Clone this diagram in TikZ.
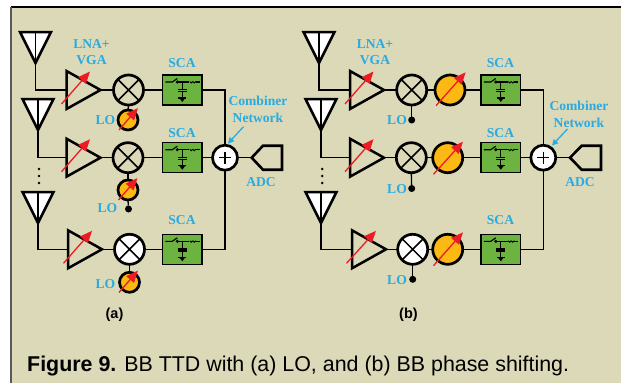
\documentclass[tikz,border=0pt]{standalone}
\usepackage{fontspec}
\setmainfont{Liberation Serif}
\setsansfont{Liberation Sans}
\usetikzlibrary{arrows.meta}
\definecolor{panelbg}{HTML}{DBD9B8}
\definecolor{scagreen}{HTML}{6CB33F}
\definecolor{psyellow}{HTML}{FDB913}
\definecolor{tunered}{HTML}{ED1C24}
\definecolor{labelblue}{HTML}{29ABE2}
\tikzset{
  wire/.style={line width=1.3pt,black},
  hull/.style={line width=2.5pt,black,line join=miter},
  mixer/.style={circle,draw=black,line width=2.7pt,minimum size=30pt,inner sep=0pt,outer sep=0pt,fill=#1},
  shifter/.style={circle,draw=black,line width=2.7pt,minimum size=#1,inner sep=0pt,outer sep=0pt,fill=psyellow},
  lodot/.style={circle,fill=black,minimum size=7pt,inner sep=0pt,outer sep=0pt},
  sumnode/.style={circle,draw=black,line width=2.7pt,fill=white,minimum size=25pt,inner sep=0pt,outer sep=0pt},
  scabox/.style={rectangle,draw=black,line width=1.5pt,fill=scagreen,minimum width=39.5pt,minimum height=30pt,inner sep=0pt,outer sep=0pt},
  bluetxt/.style={text=labelblue,font=\bfseries\fontsize{13.6}{14}\selectfont,inner sep=0pt},
  subcap/.style={font=\sffamily\bfseries\fontsize{14.5}{15}\selectfont,inner sep=0pt},
  tune/.style={tunered,line width=1.3pt,-{Triangle[length=12pt,width=10pt]}},
  bluearrow/.style={labelblue,line width=1.3pt,-{Triangle[length=6pt,width=6pt]}},
  vdot/.style={circle,fill=black,minimum size=2.8pt,inner sep=0pt,outer sep=0pt},
}
% name, tip x, tip y
\newcommand{\antenna}[3]{%
  \coordinate (#1) at (#2,#3);
  \draw[hull,fill=white] (#2-15.5,#3-31) -- (#2+15.5,#3-31) -- (#2,#3) -- cycle;
  \draw[line width=1.2pt] (#2,#3-31) -- (#2,#3);
}
% name, left x, mid y
\newcommand{\ampl}[3]{%
  \node[minimum width=34pt,minimum height=38pt,inner sep=0pt,outer sep=0pt,anchor=west] (#1) at (#2,#3) {};
  \draw[hull] (#1.north west) -- (#1.east) -- (#1.south west) -- cycle;
}
% start x, start y, end x, end y
\newcommand{\tunearrow}[4]{\draw[tune] (#1,#2) -- (#3,#4);}
% name, centre x, centre y, fill
\newcommand{\mixernode}[4]{%
  \node[mixer=#4] (#1) at (#2,#3) {};
  \draw[line width=1.5pt] (#1.45) -- (#1.225) (#1.135) -- (#1.315);
}
% name, centre x, centre y
\newcommand{\sca}[3]{%
  \node[scabox] (#1) at (#2,#3) {};
  \begin{scope}[shift={(#2,#3)}]
    \draw[line width=1.1pt] (-17,-8) -- (-10,-8) -- (-5,-11.5);
    \draw[line width=1.1pt] (-4,-8) -- (7,-8);
    \draw[line width=.9pt] (-5,-8) circle (1.1);
    \draw[line width=.9pt] (7.5,-8.5) arc (180:0:1.5) (10.5,-8.5) arc (180:0:1.5);
    \draw[line width=1.1pt] (13.5,-8) -- (17.5,-8);
    \draw[line width=1.1pt] (0,-8) -- (0,-.5) (0,1.5) -- (0,8);
    \draw[line width=1.4pt] (-4.5,-.5) -- (4.5,-.5) (-4.5,1.5) -- (4.5,1.5);
    \fill (-3,8) -- (3,8) -- (0,12) -- cycle;
    \draw[line width=1.1pt] (-4,8) -- (4,8);
  \end{scope}
}
% name, tip x, shoulder x, right x, mid y
\newcommand{\adcnode}[5]{%
  \coordinate (#1) at (#2,#5);
  \draw[line width=2.6pt,line join=miter] (#2,#5) -- (#3,#5-12) -- (#4,#5-12) -- (#4,#5+12) -- (#3,#5+12) -- cycle;
}
\begin{document}
\begin{tikzpicture}[x=1pt,y=-1pt]
\useasboundingbox (0,0) rectangle (621,383);
\fill[white] (0,0) rectangle (621,383);
\fill[panelbg] (11,7) rectangle (621,383);
\draw[line width=1.5pt,black] (10.5,7) -- (621,7);
\draw[line width=1.5pt,black!65] (11,7) -- (11,383);

% ===== panel (a) =====
\antenna{aa1}{35.5}{63}
\antenna{aa2}{38}{130}
\antenna{aa3}{38}{223}
\ampl{ag1}{66.5}{90}
\ampl{ag2}{66.5}{157.7}
\ampl{ag3}{68}{249.3}
\mixernode{am1}{128.5}{90}{panelbg}
\mixernode{am2}{128}{157.7}{panelbg}
\mixernode{am3}{129.5}{249.3}{white}
\node[shifter=20pt] (ap1) at (128,120) {};
\node[shifter=20pt] (ap2) at (128,190) {};
\node[shifter=20pt] (ap3) at (129.5,282.3) {};
\node[lodot] (ad2) at (128.5,209) {};
\sca{as1}{182.3}{90}
\sca{as2}{182.3}{157.7}
\sca{as3}{182.3}{249.3}
\node[sumnode] (asum) at (225,157.7) {};
\draw[line width=1.4pt] (asum.center) ++(-6,0) -- ++(12,0) (asum.center) ++(0,-6) -- ++(0,12);
\adcnode{aadc}{251.7}{263}{282}{157.7}
\coordinate (at1) at (aa1 |- ag1);
\coordinate (at2) at (aa2 |- ag2);
\coordinate (at3) at (aa3 |- ag3);
\draw[wire] (aa1) -- (at1) -- (ag1.west);
\draw[wire] (aa2) -- (at2) -- (ag2.west);
\draw[wire] (aa3) -- (at3) -- (ag3.west);
\foreach \g/\m/\s in {ag1/am1/as1,ag2/am2/as2,ag3/am3/as3}{
  \draw[wire] (\g.east) -- (\m.west);
  \draw[wire] (\m.east) -- (\s.west);
}
\draw[wire] (am1.south) -- (ap1.north);
\draw[wire] (am2.south) -- (ap2.north);
\draw[wire] (am3.south) -- (ap3.north);
\draw[wire] (ap2.south) -- (ad2);
\draw[wire] (as1.east) -| (asum.north);
\draw[wire] (as2.east) -- (asum.west);
\draw[wire] (as3.east) -| (asum.south);
\draw[wire] (asum.east) -- (aadc);
\tunearrow{61.5}{104}{90}{71.5}
\tunearrow{61.5}{171.7}{90}{139.2}
\tunearrow{63.5}{263.3}{92}{230.8}
\tunearrow{119}{130}{138}{108}
\tunearrow{118.5}{200}{137.5}{178}
\tunearrow{119}{292.5}{138}{270.5}
\node[vdot] (ad-a) at (39,169) {};
\node[vdot] (ad-b) at (39,176) {};
\node[vdot] (ad-c) at (39,183) {};
\node[bluetxt] (al1) at (91.5,44) {LNA+};
\node[bluetxt] (al2) at (91.5,60.5) {VGA};
\node[bluetxt] (as1t) at (182,63.5) {SCA};
\node[bluetxt] (as2t) at (182,133.5) {SCA};
\node[bluetxt] (as3t) at (182,220.5) {SCA};
\node[bluetxt] (alo1) at (105.5,120.5) {LO};
\node[bluetxt] (alo2) at (107.5,208) {LO};
\node[bluetxt] (alo3) at (105.5,284) {LO};
\node[bluetxt] (acomb1) at (258,101) {Combiner};
\node[bluetxt] (acomb2) at (258,117.5) {Network};
\node[bluetxt] (aadct) at (261,182) {ADC};
\coordinate (acs) at (243.5,126.7);
\coordinate (ace) at (228,143.5);
\draw[bluearrow] (acs) -- (ace);
\node[subcap] (acap) at (114.5,315) {(a)};

% ===== panel (b) =====
\antenna{ba1}{319}{63}
\antenna{ba2}{321}{130}
\antenna{ba3}{321}{223}
\ampl{bg1}{350}{90}
\ampl{bg2}{350}{157.7}
\ampl{bg3}{352}{249.3}
\mixernode{bm1}{411.7}{90}{panelbg}
\mixernode{bm2}{411.3}{157.7}{panelbg}
\mixernode{bm3}{412.7}{249.3}{white}
\node[shifter=30pt] (bp1) at (450,90) {};
\node[shifter=30pt] (bp2) at (447.7,157.7) {};
\node[shifter=30pt] (bp3) at (447.7,249.3) {};
\node[lodot] (bd1) at (411.7,120) {};
\node[lodot] (bd2) at (411.7,188.5) {};
\node[lodot] (bd3) at (412.7,279.3) {};
\sca{bs1}{500.8}{90}
\sca{bs2}{500.8}{157.7}
\sca{bs3}{500.8}{249.3}
\node[sumnode] (bsum) at (543.3,157.7) {};
\draw[line width=1.4pt] (bsum.center) ++(-6,0) -- ++(12,0) (bsum.center) ++(0,-6) -- ++(0,12);
\adcnode{badc}{570}{581.7}{601}{157.7}
\coordinate (bt1) at (ba1 |- bg1);
\coordinate (bt2) at (ba2 |- bg2);
\coordinate (bt3) at (ba3 |- bg3);
\draw[wire] (ba1) -- (bt1) -- (bg1.west);
\draw[wire] (ba2) -- (bt2) -- (bg2.west);
\draw[wire] (ba3) -- (bt3) -- (bg3.west);
\foreach \g/\m/\p/\s/\d in {bg1/bm1/bp1/bs1/bd1,bg2/bm2/bp2/bs2/bd2,bg3/bm3/bp3/bs3/bd3}{
  \draw[wire] (\g.east) -- (\m.west);
  \draw[wire] (\m.east) -- (\p.west);
  \draw[wire] (\p.east) -- (\s.west);
  \draw[wire] (\m.south) -- (\d);
}
\draw[wire] (bs1.east) -| (bsum.north);
\draw[wire] (bs2.east) -- (bsum.west);
\draw[wire] (bs3.east) -| (bsum.south);
\draw[wire] (bsum.east) -- (badc);
\tunearrow{345}{104}{373.5}{71.5}
\tunearrow{345}{171.7}{373.5}{139.2}
\tunearrow{346.5}{263.3}{376}{230.8}
\tunearrow{436}{105.7}{465.7}{72.3}
\tunearrow{433.5}{174.3}{463}{141.7}
\tunearrow{433.5}{265.7}{463}{232.3}
\node[vdot] (bd-a) at (322.3,169) {};
\node[vdot] (bd-b) at (322.3,176) {};
\node[vdot] (bd-c) at (322.3,183) {};
\node[bluetxt] (bl1) at (375,44) {LNA+};
\node[bluetxt] (bl2) at (375,60.5) {VGA};
\node[bluetxt] (bs1t) at (500.5,63.5) {SCA};
\node[bluetxt] (bs2t) at (500.5,133.5) {SCA};
\node[bluetxt] (bs3t) at (500.5,220.5) {SCA};
\node[bluetxt] (blo1) at (397,120.5) {LO};
\node[bluetxt] (blo2) at (397,189.5) {LO};
\node[bluetxt] (blo3) at (397,280.5) {LO};
\node[bluetxt] (bcomb1) at (579,106) {Combiner};
\node[bluetxt] (bcomb2) at (579,122.5) {Network};
\node[bluetxt] (badct) at (580,182) {ADC};
\coordinate (bcs) at (567.5,129);
\coordinate (bce) at (552,145.5);
\draw[bluearrow] (bcs) -- (bce);
\node[subcap] (bcap) at (408.5,314.5) {(b)};

% ===== caption =====
\node[anchor=base west,inner sep=0pt,font=\sffamily\fontsize{21.4}{24}\selectfont] (figcap) at (27,371) {\textbf{Figure 9.} BB TTD with (a) LO, and (b) BB phase shifting.};
\end{tikzpicture}
\end{document}
